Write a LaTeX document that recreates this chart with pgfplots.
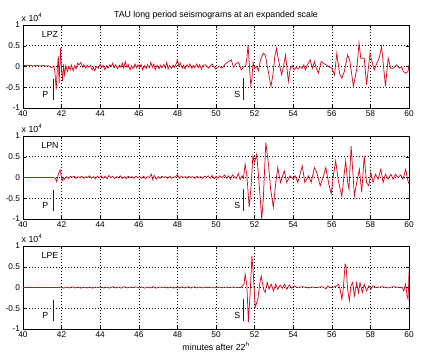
\documentclass[border=0pt]{standalone}
\usepackage{fontspec}
\setmainfont{Liberation Sans}
\usepackage{pgfplots}
\pgfplotsset{compat=1.18}
\definecolor{tracered}{RGB}{215,15,35}
\definecolor{psblue}{RGB}{10,10,210}
\pgfplotsset{panel/.style={
  scale only axis, width=386pt, height=83pt,
  xmin=40, xmax=60, ymin=-1, ymax=1,
  xtick={40,42,...,60}, xticklabels={40,42,44,46,48,50,52,54,56,58,60},
  ytick={-1,-0.5,0,0.5,1}, yticklabels={-1,-0.5,0,0.5,1},
  grid=major, major grid style={black, dash pattern=on 0.8pt off 2.2pt, line width=0.5pt},
  tick align=inside, major tick length=3pt, tick style={black, line width=0.4pt},
  axis line style={black, line width=0.5pt},
  ticklabel style={font=\fontsize{8.3}{9}\selectfont},
  xticklabel style={yshift=1pt},
  yticklabel style={xshift=0.5pt},
  clip mode=individual,
}}
\newcommand{\lbl}{\fontsize{8.8}{10}\selectfont}
\begin{document}
\begin{tikzpicture}
\path[use as bounding box] (0,0) rectangle (425pt,-358pt);
% ---------------- LPZ
\begin{axis}[panel, at={(23pt,-25pt)}, anchor=north west]
\addplot[tracered, line width=0.75pt] coordinates {
(40.0,0.03)(40.1,0.02)(40.2,0.03)(40.3,0.02)(40.4,0.03)(40.5,0.01)(40.6,0.02)(40.7,0.03)(40.8,0.02)(40.9,0.01)
(41.0,0.03)(41.1,0.02)(41.2,0.01)(41.3,0.02)(41.4,0.00)(41.5,-0.03)(41.6,0.02)(41.65,-0.12)(41.72,-0.55)(41.78,-0.05)
(41.83,0.25)(41.87,-0.4)(41.95,0.45)(42.0,-0.1)(42.05,-0.35)(42.1,0.05)(42.15,-0.2)(42.22,0.02)(42.3,-0.12)(42.38,0.0)
(42.45,-0.08)(42.5,0.04)(42.6,-0.1)(42.68,0.02)(42.75,-0.06)(42.83,0.08)(42.9,0.04)(43.0,0.1)(43.08,-0.02)(43.15,0.04)
(43.25,-0.04)(43.33,0.03)(43.4,-0.02)(43.5,0.03)(43.58,-0.08)(43.65,-0.02)(43.72,-0.1)(43.8,0.0)(43.9,-0.04)(44.0,0.05)
(44.08,-0.03)(44.15,0.03)(44.25,-0.08)(44.32,0.02)(44.4,-0.04)(44.5,0.04)(44.58,0.0)(44.65,0.08)(44.72,-0.03)(44.8,0.04)
(44.9,-0.05)(45.0,0.03)(45.08,-0.02)(45.15,0.08)(45.22,-0.04)(45.3,0.12)(45.38,-0.02)(45.45,0.05)(45.55,-0.08)(45.62,0.02)
(45.7,-0.05)(45.8,0.06)(45.88,-0.03)(45.95,0.04)(46.05,-0.02)(46.12,0.05)(46.2,-0.08)(46.3,0.02)(46.38,-0.05)(46.45,0.04)
(46.55,-0.03)(46.62,0.1)(46.7,-0.02)(46.78,0.06)(46.85,-0.08)(46.95,0.03)(47.05,-0.06)(47.12,0.03)(47.2,-0.03)(47.3,0.05)
(47.38,-0.04)(47.45,0.1)(47.52,-0.06)(47.6,0.02)(47.7,-0.04)(47.78,0.03)(47.85,-0.02)(47.95,0.08)(48.0,0.16)(48.08,0.0)
(48.15,0.08)(48.25,-0.04)(48.32,0.03)(48.4,-0.06)(48.5,0.04)(48.58,-0.02)(48.65,0.06)(48.75,-0.05)(48.82,0.03)(48.9,-0.03)
(49.0,0.06)(49.08,-0.03)(49.15,0.04)(49.25,-0.06)(49.32,0.03)(49.45,0.04)(49.62,-0.04)(49.79,0.06)(49.97,-0.06)(50.14,0.0)
(50.31,-0.04)(50.48,0.06)(50.65,0.12)(50.79,0.16)(50.91,-0.02)(51.03,0.06)(51.17,0.1)(51.31,-0.08)(51.43,-0.02)(51.55,0.04)
(51.6,0.2)(51.66,0.52)(51.72,0.1)(51.8,-0.45)(51.86,-0.3)(51.92,0.1)(52.0,-0.05)(52.1,0.0)(52.2,-0.1)(52.3,0.15)
(52.45,0.32)(52.55,0.28)(52.7,-0.1)(52.85,-0.48)(52.95,-0.2)(53.05,0.25)(53.14,0.44)(53.22,0.2)(53.4,-0.2)(53.5,0.0)
(53.6,0.28)(53.75,-0.36)(53.85,-0.05)(53.95,0.02)(54.05,-0.08)(54.15,-0.02)(54.25,-0.06)(54.35,0.0)(54.45,-0.05)(54.55,0.04)
(54.63,-0.08)(54.75,0.05)(54.88,0.16)(55.0,-0.04)(55.1,0.12)(55.2,-0.05)(55.31,-0.16)(55.45,0.12)(55.55,0.08)(55.7,0.04)
(55.8,0.0)(56.0,-0.04)(56.14,-0.2)(56.26,0.32)(56.4,-0.16)(56.52,-0.28)(56.65,-0.12)(56.82,0.28)(56.94,0.12)(57.12,-0.48)
(57.3,-0.04)(57.41,0.56)(57.5,0.2)(57.6,0.2)(57.68,0.2)(57.8,-0.44)(57.98,0.32)(58.1,0.08)(58.2,-0.08)(58.3,0.04)
(58.45,0.2)(58.58,0.48)(58.78,-0.48)(58.92,0.2)(59.05,-0.04)(59.2,-0.04)(59.35,0.04)(59.5,-0.04)(59.62,0.0)(59.7,-0.12)
(59.85,-0.16)(59.95,-0.12)(60.0,0.04)};
\addplot[psblue, line width=0.9pt] coordinates {(41.57,-0.3)(41.57,-0.81)};
\addplot[psblue, line width=0.9pt] coordinates {(51.41,-0.28)(51.41,-0.81)};
\node[font=\lbl] at (axis cs:41.15,-0.67) {P};
\node[font=\lbl] at (axis cs:51.1,-0.67) {S};
\node[font=\lbl, inner sep=1pt] at (axis cs:41.4,0.77) {LPZ};
\node[font=\lbl, anchor=south west, inner sep=0pt] at (rel axis cs:0,1) [xshift=-1.5pt, yshift=3pt] {x 10\textsuperscript{4}};
\node[font=\lbl, anchor=base] at (rel axis cs:0.5,1) [yshift=7pt] {TAU long period seismograms at an expanded scale};
\end{axis}
% ---------------- LPN
\begin{axis}[panel, at={(23pt,-136pt)}, anchor=north west]
\addplot[tracered, line width=0.75pt] coordinates {
(40.0,0)(41.6,0)(41.68,-0.02)(41.74,-0.1)(41.8,0.02)(41.86,0.12)(41.92,0.18)(41.98,0.05)(42.03,-0.08)(42.1,0.0)
(42.15,-0.04)(42.25,0.02)(42.35,-0.02)(42.45,0.03)(42.55,0.01)(42.65,0.03)(42.75,-0.02)(42.85,0.02)(42.95,0.0)(43.05,0.03)
(43.15,-0.02)(43.25,0.02)(43.35,0.0)(43.45,0.04)(43.55,-0.02)(43.65,0.02)(43.75,-0.03)(43.85,0.03)(43.95,0.0)(44.05,0.04)
(44.15,-0.02)(44.25,0.03)(44.35,-0.03)(44.45,0.05)(44.55,0.0)(44.65,0.03)(44.75,-0.03)(44.85,0.02)(44.95,0.0)(45.05,0.04)
(45.15,-0.02)(45.25,0.02)(45.35,-0.03)(45.45,0.03)(45.55,0.0)(45.65,0.02)(45.75,-0.02)(45.85,0.03)(45.95,0.0)(46.05,0.02)
(46.15,-0.02)(46.25,0.03)(46.35,-0.03)(46.45,0.02)(46.55,0.0)(46.65,0.08)(46.72,-0.05)(46.8,0.05)(46.9,-0.04)(47.0,0.02)
(47.1,-0.02)(47.2,0.03)(47.3,0.0)(47.4,0.02)(47.5,-0.02)(47.6,0.03)(47.7,-0.02)(47.8,0.01)(47.9,0.02)(48.0,0.07)
(48.1,-0.02)(48.2,0.03)(48.3,0.0)(48.4,0.02)(48.5,-0.02)(48.6,0.03)(48.7,0.0)(48.8,0.02)(48.9,-0.02)(49.0,0.03)
(49.1,0.0)(49.2,0.02)(49.3,-0.02)(49.4,0.03)(49.5,0.01)(49.6,0.04)(49.7,-0.02)(49.8,0.05)(49.9,-0.03)(50.0,0.02)
(50.1,-0.02)(50.2,0.04)(50.3,0.0)(50.45,0.06)(50.55,-0.02)(50.65,0.04)(50.75,-0.04)(50.85,0.06)(50.95,0.02)(51.05,-0.02)
(51.15,0.1)(51.25,-0.05)(51.35,0.04)(51.42,-0.02)(51.51,0.32)(51.6,0.04)(51.72,-0.72)(51.82,-0.2)(51.91,0.52)(52.0,0.36)
(52.11,0.56)(52.23,-0.12)(52.37,-1.0)(52.45,-0.52)(52.58,0.84)(52.71,0.36)(52.83,-0.28)(52.97,-0.72)(53.08,-0.2)(53.2,0.24)
(53.34,-0.12)(53.54,0.16)(53.66,-0.12)(53.83,0.04)(54.0,-0.04)(54.1,0.04)(54.24,-0.12)(54.47,0.28)(54.6,-0.12)(54.75,0.0)
(54.8,0.04)(54.93,-0.12)(55.1,0.24)(55.22,0.12)(55.4,-0.2)(55.57,0.04)(55.69,0.24)(55.83,-0.12)(55.97,-0.4)(56.09,0.08)
(56.2,0.4)(56.34,-0.08)(56.52,-0.46)(56.65,0.12)(56.72,0.4)(56.82,-0.12)(56.89,-0.28)(57.0,0.76)(57.08,0.2)(57.17,-0.44)
(57.29,-0.12)(57.43,0.2)(57.55,-0.36)(57.68,0.52)(57.8,-0.12)(57.92,-0.2)(58.02,0.12)(58.14,-0.12)(58.26,0.08)(58.4,-0.04)
(58.54,0.2)(58.66,-0.12)(58.78,0.08)(58.92,-0.04)(59.06,0.08)(59.18,-0.04)(59.3,0.08)(59.44,0.0)(59.57,0.06)(59.69,-0.04)
(59.83,0.2)(59.92,-0.04)(60.0,-0.16)};
\addplot[psblue, line width=0.9pt] coordinates {(41.57,-0.3)(41.57,-0.81)};
\addplot[psblue, line width=0.9pt] coordinates {(51.41,-0.28)(51.41,-0.81)};
\node[font=\lbl] at (axis cs:41.15,-0.67) {P};
\node[font=\lbl] at (axis cs:51.1,-0.67) {S};
\node[font=\lbl, inner sep=1pt] at (axis cs:41.4,0.77) {LPN};
\node[font=\lbl, anchor=south west, inner sep=0pt] at (rel axis cs:0,1) [xshift=-1.5pt, yshift=3pt] {x 10\textsuperscript{4}};
\end{axis}
% ---------------- LPE
\begin{axis}[panel, at={(23pt,-246pt)}, anchor=north west]
\addplot[tracered, line width=0.75pt] coordinates {
(40.0,0)(41.8,0)(41.95,0.01)(42.1,-0.015)(42.25,0.01)(42.4,-0.01)(42.55,0.015)(42.7,-0.01)(42.85,0.01)(43.0,-0.015)
(43.15,0.01)(43.3,-0.01)(43.45,0.01)(43.6,-0.015)(43.75,0.01)(43.9,0.0)(44.05,0.01)(44.2,-0.01)(44.35,0.01)(44.5,-0.015)
(44.65,0.02)(44.8,-0.01)(44.95,0.01)(45.1,-0.015)(45.25,0.02)(45.4,-0.01)(45.55,0.01)(45.7,0.0)(45.85,0.015)(46.0,-0.01)
(46.15,0.01)(46.3,-0.015)(46.45,0.01)(46.6,-0.01)(46.75,0.02)(46.9,-0.015)(47.05,0.01)(47.2,0.0)(47.35,0.01)(47.5,-0.01)
(47.65,0.01)(47.8,-0.015)(47.95,0.01)(48.1,-0.01)(48.25,0.015)(48.4,-0.01)(48.55,0.02)(48.7,-0.015)(48.85,0.02)(49.0,-0.01)
(49.15,0.01)(49.3,-0.01)(49.45,0.01)(49.6,0.0)(49.75,0.01)(49.9,-0.01)(50.1,0.01)(50.3,0.0)(50.5,0.01)(50.7,0.0)
(50.9,0.01)(51.1,0.0)(51.3,0.0)(51.45,0.08)(51.51,0.32)(51.6,0.04)(51.68,-0.84)(51.77,-0.12)(51.86,0.76)(51.94,0.28)
(52.03,-0.48)(52.17,-0.28)(52.25,0.04)(52.34,0.28)(52.46,-0.04)(52.55,-0.12)(52.65,0.12)(52.75,-0.04)(52.86,0.08)(52.98,-0.08)
(53.1,0.08)(53.2,-0.04)(53.32,0.06)(53.43,-0.02)(53.55,0.08)(53.67,-0.04)(53.8,0.06)(53.93,-0.02)(54.05,0.04)(54.2,0.0)
(54.5,0.02)(54.8,-0.01)(55.0,0.01)(55.2,0.0)(55.5,0.02)(55.7,-0.03)(55.8,0.04)(55.9,0.0)(56.0,0.0)(56.26,0.04)
(56.34,0.08)(56.43,-0.04)(56.52,-0.28)(56.6,0.0)(56.69,0.56)(56.74,0.52)(56.82,-0.04)(56.91,-0.32)(56.99,0.04)(57.08,0.12)
(57.17,-0.2)(57.29,0.12)(57.38,-0.12)(57.46,0.12)(57.58,-0.12)(57.68,0.08)(57.8,-0.08)(57.92,0.04)(58.02,-0.04)(58.14,0.04)
(58.3,0.0)(58.6,0.02)(58.9,-0.01)(59.2,0.02)(59.5,0.0)(59.65,0.0)(59.73,-0.08)(59.82,0.08)(59.9,-0.2)(59.95,-0.28)
(59.98,0.04)(60.0,0.38)};
\addplot[psblue, line width=0.9pt] coordinates {(41.57,-0.3)(41.57,-0.81)};
\addplot[psblue, line width=0.9pt] coordinates {(51.41,-0.28)(51.41,-0.81)};
\node[font=\lbl] at (axis cs:41.15,-0.67) {P};
\node[font=\lbl] at (axis cs:51.1,-0.67) {S};
\node[font=\lbl, inner sep=1pt] at (axis cs:41.4,0.77) {LPE};
\node[font=\lbl, anchor=south west, inner sep=0pt] at (rel axis cs:0,1) [xshift=-1.5pt, yshift=3pt] {x 10\textsuperscript{4}};
\node[font=\lbl, anchor=base] at (rel axis cs:0.5,0) [yshift=-21pt] {minutes after 22\textsuperscript{h}};
\end{axis}
\end{tikzpicture}
\end{document}
